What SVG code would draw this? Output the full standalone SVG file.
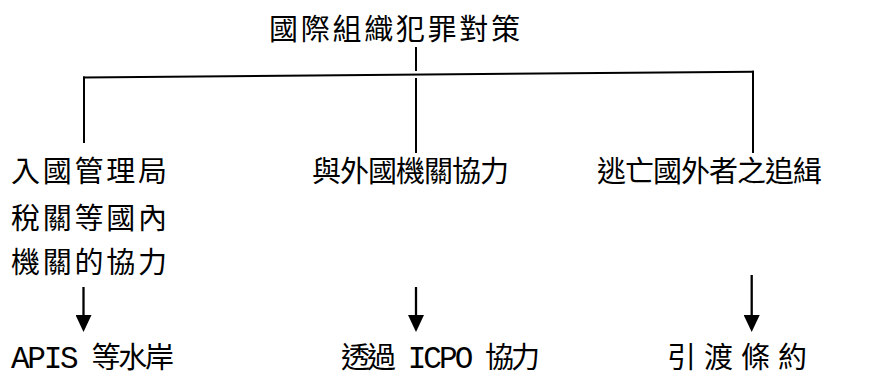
<svg xmlns="http://www.w3.org/2000/svg" width="891" height="378" viewBox="0 0 891 378">
  <style>
    .t { font-family: "Liberation Mono", "Noto Sans CJK TC", monospace; font-size: 29px; fill: #000; }
    .lat { font-size: 31px; }
    .c { stroke: #000; stroke-width: 2; fill: none; }
    .a { stroke: #000; stroke-width: 2.3; fill: none; marker-end: url(#arr); }
  </style>
  <defs>
    <marker id="arr" viewBox="0 0 17 16" refX="0" refY="8" markerWidth="17" markerHeight="16" markerUnits="userSpaceOnUse" orient="auto">
      <path d="M0,0 L17,8 L0,16 Z" fill="#000"/>
    </marker>
  </defs>
  <rect width="891" height="378" fill="#fff"/>

  <g id="connectors">
    <line class="c" x1="416" y1="47" x2="416" y2="71"/>
    <line class="c" x1="83" y1="77.5" x2="754" y2="71.7"/>
    <line class="c" x1="84" y1="76.5" x2="84" y2="143"/>
    <line class="c" x1="416" y1="78" x2="416" y2="153"/>
    <line class="c" x1="753" y1="70.7" x2="753" y2="153"/>
    <line class="a" x1="83.5" y1="287" x2="83.5" y2="315"/>
    <line class="a" x1="416" y1="287" x2="416" y2="315"/>
    <line class="a" x1="751.7" y1="275" x2="751.7" y2="315"/>
  </g>

  <g id="root">
    <text class="t" x="269" y="40" textLength="251" lengthAdjust="spacing">國際組織犯罪對策</text>
  </g>
  <g id="domestic">
    <text class="t" x="11" y="182" textLength="156" lengthAdjust="spacing">入國管理局</text>
    <text class="t" x="11" y="229" textLength="156" lengthAdjust="spacing">稅關等國內</text>
    <text class="t" x="11" y="273" textLength="156" lengthAdjust="spacing">機關的協力</text>
  </g>
  <g id="foreign">
    <text class="t" x="312" y="182" textLength="197" lengthAdjust="spacing">與外國機關協力</text>
  </g>
  <g id="fugitive">
    <text class="t" x="597" y="182" textLength="225" lengthAdjust="spacing">逃亡國外者之追緝</text>
  </g>
  <g id="apis">
    <text class="t" x="11" y="368" textLength="163" lengthAdjust="spacing"><tspan class="lat">APIS</tspan> 等水岸</text>
  </g>
  <g id="icpo">
    <text class="t" x="341" y="368" textLength="199" lengthAdjust="spacing">透過 <tspan class="lat">ICPO</tspan> 協力</text>
  </g>
  <g id="extradition">
    <text class="t" x="667" y="368" textLength="140" lengthAdjust="spacing">引渡條約</text>
  </g>
</svg>
